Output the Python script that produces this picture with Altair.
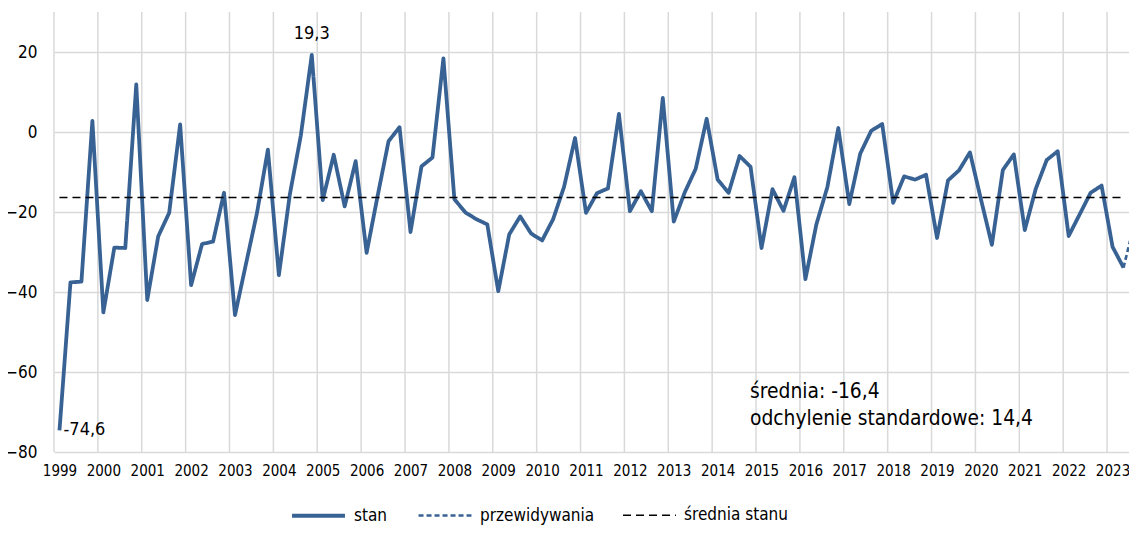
import altair as alt
import pandas as pd

# ---- data ----
years = list(range(1999, 2024))
stan = [
    -74.6, -37.6, -37.4, 2.8, -45.1, -28.9, -29.0, 11.9,
    -42.0, -26.1, -20.2, 1.9, -38.3, -28.0, -27.4, -15.2,
    -45.8, -33.0, -20.3, -4.4, -35.8, -15.6, -0.9, 19.3,
    -17.0, -5.7, -18.6, -7.3, -30.2, -16.0, -2.3, 1.2,
    -25.0, -8.6, -6.4, 18.4, -16.8, -20.1, -21.8, -23.1,
    -39.8, -25.6, -21.1, -25.4, -27.1, -21.8, -13.7, -1.5,
    -20.2, -15.3, -14.1, 4.5, -19.8, -14.8, -19.8, 8.5,
    -22.4, -15.1, -9.2, 3.3, -11.9, -15.2, -6.0, -8.7,
    -29.0, -14.3, -19.7, -11.3, -36.8, -23.1, -13.8, 1.0,
    -18.0, -5.4, 0.3, 2.0, -17.7, -11.1, -11.9, -10.7,
    -26.5, -12.1, -9.6, -5.1, -16.8, -28.2, -9.5, -5.6,
    -24.5, -14.2, -7.0, -4.8, -26.0, -20.6, -15.2, -13.4,
    -28.7, -33.9,
]
forecast_value = -22.7
mean_value = -16.4
std_value = 14.4
y_ticks = [-80, -60, -40, -20, 0, 20]
series_names = ["stan", "przewidywania", "średnia stanu"]
series_colors = ["#386293", "#386293", "#000000"]
series_dash = [[1, 0], [5, 3], [8, 5]]
series_width = [3.8, 1.5, 2]

FONT = "'DejaVu Sans Condensed', 'Open Sans', sans-serif"


def fmt(v):
    return f"{v:.1f}".replace(".", ",")


last = len(stan) - 1
df = pd.DataFrame({"i": list(range(len(stan))), "v": stan, "series": "stan"})
fc = pd.DataFrame({"i": [last, last + 1], "v": [stan[-1], forecast_value],
                   "series": "przewidywania"})
fc_pt = fc.iloc[[1]]
mean_df = pd.DataFrame({"i": [0], "i2": [last], "v": [mean_value],
                        "series": ["średnia stanu"]})
grid_df = pd.DataFrame({"i": [4 * k - 0.5 for k in range(len(years))]})

imax = int(df["v"].idxmax())
imin = int(df["v"].idxmin())
ann_max = pd.DataFrame({"i": [imax], "v": [stan[imax]], "t": [fmt(stan[imax])]})
ann_min = pd.DataFrame({"i": [imin], "v": [stan[imin]], "t": [fmt(stan[imin])]})

xscale = alt.Scale(domain=[-0.5, 97.5], nice=False, zero=False)
yscale = alt.Scale(domain=[-80, 30], nice=False, zero=False)

xaxis = alt.Axis(values=[4 * k for k in range(len(years))],
                 labelExpr=f"'' + ({years[0]} + datum.value / 4)",
                 grid=False, ticks=False, domain=False,
                 labelFontSize=15, labelPadding=11, title=None)
yaxis = alt.Axis(values=y_ticks, grid=True, gridColor="#d9d9d9", gridWidth=1.5,
                 ticks=False, domain=False, labelFontSize=17, labelPadding=17,
                 title=None)

X = alt.X("i:Q", scale=xscale, axis=xaxis)
Y = alt.Y("v:Q", scale=yscale, axis=yaxis)

color = alt.Color("series:N", scale=alt.Scale(domain=series_names, range=series_colors),
                  title=None)
dash = alt.StrokeDash("series:N", scale=alt.Scale(domain=series_names, range=series_dash),
                      title=None)
width = alt.StrokeWidth("series:N", scale=alt.Scale(domain=series_names, range=series_width),
                        title=None)

grid = alt.Chart(grid_df).mark_rule(color="#d9d9d9", strokeWidth=1.5).encode(x=X)

line = alt.Chart(df).mark_line(clip=True, strokeJoin="round").encode(
    x=X, y=Y, color=color, strokeDash=dash, strokeWidth=width,
)

fline = alt.Chart(fc).mark_line(clip=True).encode(
    x=X, y=Y, color=color, strokeDash=dash, strokeWidth=width,
)

fpoint = alt.Chart(fc_pt).mark_point(shape="diamond", filled=True, size=90,
                                      color=series_colors[1], opacity=1,
                                      clip=True).encode(x=X, y=Y)

mline = alt.Chart(mean_df).mark_rule(clip=True).encode(
    x=X, x2="i2:Q", y=Y, color=color, strokeDash=dash, strokeWidth=width,
)

tmax = alt.Chart(ann_max).mark_text(font=FONT, fontSize=18, align="center",
                                     baseline="alphabetic", dy=-16,
                                     color="#000000").encode(x=X, y=Y, text="t:N")
tmin = alt.Chart(ann_min).mark_text(font=FONT, fontSize=18, align="left",
                                     baseline="alphabetic", dx=4, dy=5,
                                     color="#000000").encode(x=X, y=Y, text="t:N")

stats = alt.Chart(pd.DataFrame({"k": [0]})).mark_text(
    font=FONT, fontSize=20.8, align="left", baseline="alphabetic",
    lineHeight=27, color="#000000"
).encode(
    x=alt.value(696), y=alt.value(386),
    text=alt.value([f"średnia: {fmt(mean_value)}",
                    f"odchylenie standardowe: {fmt(std_value)}"]),
)

chart = alt.layer(grid, line, fline, fpoint, mline, tmax, tmin, stats).properties(
    width=1075, height=440,
    autosize=alt.AutoSizeParams(type="none"),
    padding={"left": 46, "top": 4, "right": 0, "bottom": 74},
).configure_view(stroke=None).configure_axis(
    labelFont=FONT, labelColor="#000000"
).configure_legend(
    orient="none", legendX=236, legendY=475, direction="horizontal",
    symbolType="stroke", symbolSize=2800, labelFont=FONT, labelFontSize=17,
    labelColor="#000000", labelOffset=7, columnPadding=25, padding=0,
    title=None,
)

chart.save("out.html", embed_options={"renderer": "svg", "actions": False})
